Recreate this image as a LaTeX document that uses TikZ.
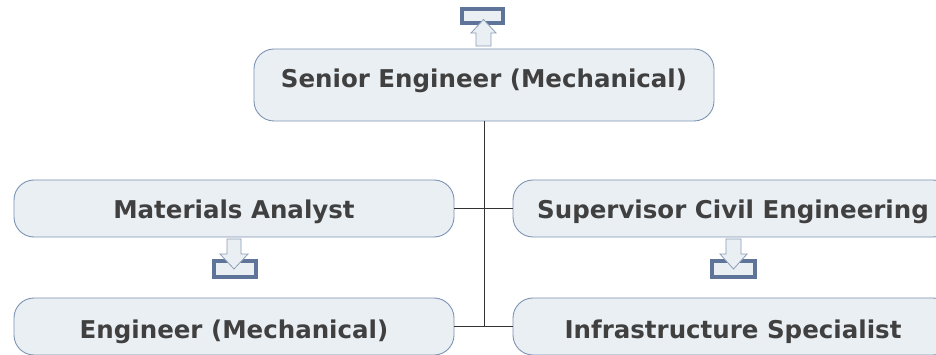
\documentclass[tikz,border=0pt]{standalone}
\usepackage{fontspec}
\setmainfont{DejaVu Sans}
\definecolor{boxfill}{HTML}{EAEFF3}
\definecolor{boxdraw}{HTML}{7D93B3}
\definecolor{txt}{HTML}{404040}
\definecolor{iconblue}{HTML}{5E7599}
\definecolor{arrowdraw}{HTML}{8C9EB8}
\definecolor{linec}{HTML}{333333}
\begin{document}
\begin{tikzpicture}[x=1pt,y=-1pt,
  role/.style={draw=boxdraw, fill=boxfill, line width=0.9pt, rounded corners=20pt,
    minimum width=440pt, minimum height=57pt, inner sep=0pt, text=txt,
    font=\fontsize{24.5}{28}\selectfont\bfseries},
  conn/.style={draw=linec, line width=0.8pt},
  iconrect/.style={draw=iconblue, fill=boxfill, line width=4pt, inner sep=0pt},
  iconarrow/.style={draw=arrowdraw, fill=boxfill, line width=0.8pt}
]
\useasboundingbox (0,0) rectangle (936,355);
\fill[white] (0,0) rectangle (936,355);
% boxes
\node[role, minimum width=460pt, minimum height=72pt, text height=17.5pt, text depth=12pt] (senior) at (484,85) {Senior Engineer (Mechanical)};
\node[role, text height=19.5pt, text depth=0pt] (mat) at (234,208.5) {Materials Analyst};
\node[role, text height=19.5pt, text depth=0pt] (sup) at (733,208.5) {Supervisor Civil Engineering};
\node[role, text height=23.5pt, text depth=0pt] (eng) at (234,326.5) {Engineer (Mechanical)};
\node[role, text height=23.5pt, text depth=0pt] (inf) at (733,326.5) {Infrastructure Specialist};
% connectors
\coordinate (jb) at (484,326);
\draw[conn] (senior.south) -- (jb);
\draw[conn] (mat.east) -- (sup.west);
\draw[conn] (eng.east |- jb) -- (inf.west |- jb);
% top icon (up arrow)
\node[iconrect, minimum width=41pt, minimum height=14pt] (topicon) at (482.5,16) {};
\draw[iconarrow] (476,46) -- (476,33) -- (471,33) -- (483.5,19.5) -- (496,33) -- (491,33) -- (491,46) -- cycle;
% down icons
\node[iconrect, minimum width=42pt, minimum height=16pt] (lefticon) at (234.7,269.3) {};
\draw[iconarrow] (227,239) -- (227,254) -- (220,254) -- (234,269) -- (248,254) -- (241,254) -- (241,239) -- cycle;
\node[iconrect, minimum width=43pt, minimum height=16pt] (righticon) at (733.5,269.3) {};
\draw[iconarrow] (726,239) -- (726,254) -- (720,254) -- (733.5,269) -- (747,254) -- (741,254) -- (741,239) -- cycle;
\end{tikzpicture}
\end{document}
